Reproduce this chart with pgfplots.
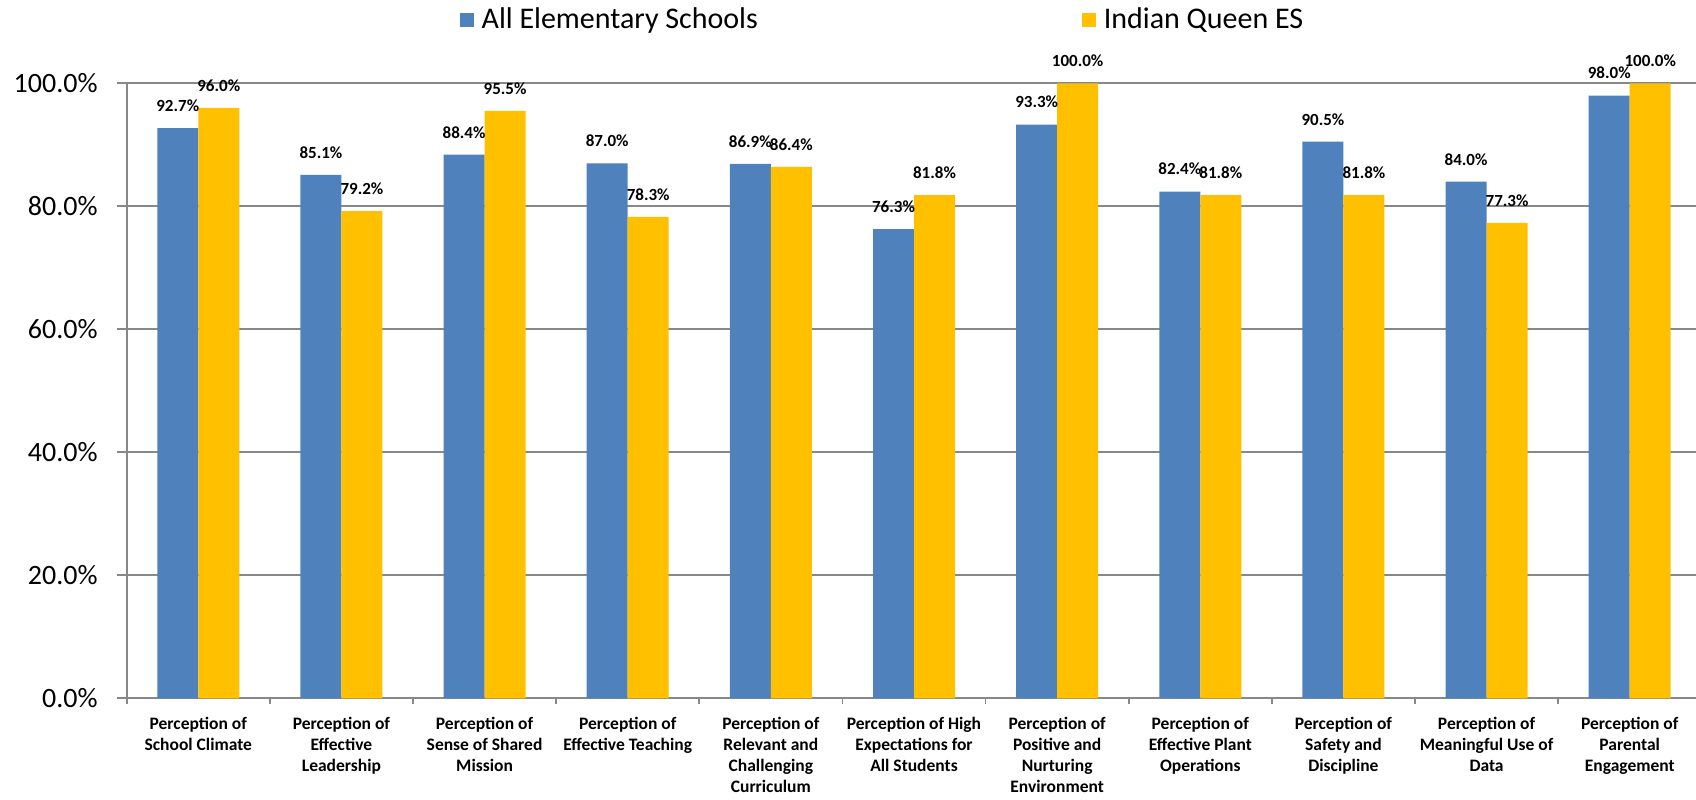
\documentclass[border=0pt]{standalone}
\usepackage{pgfplots}
\pgfplotsset{compat=1.18}
\usepackage{fontspec}
\setmainfont{Carlito}
\definecolor{cblue}{HTML}{4F81BD}
\definecolor{cyellow}{HTML}{FFC000}
\definecolor{cgrid}{HTML}{888888}
\begin{document}
\begin{tikzpicture}
\useasboundingbox (-63.35pt,-50.35pt) rectangle (784.65pt,349.15pt);
\begin{axis}[
  at={(0pt,0pt)}, anchor=south west,
  scale only axis, width=787.3pt, height=307.5pt,
  ybar=0pt, bar width=20.5pt,
  xmin=-0.5, xmax=10.5, ymin=0, ymax=100,
  clip=false,
  axis x line*=bottom, axis y line*=left,
  axis line style={-, cgrid, line width=0.9pt},
  ymajorgrids, grid style={cgrid, line width=0.9pt},
  ytick={0,20,...,100},
  /pgf/number format/assume math mode=true,
  yticklabel={\pgfmathprintnumber[fixed,fixed zerofill,precision=1]{\tick}\%},
  yticklabel style={font=\fontsize{14}{16}\selectfont, inner sep=0pt, xshift=-9.35pt},
  xtick={0,...,10},
  xticklabels={
    {Perception of\\School Climate},
    {Perception of\\Effective\\Leadership},
    {Perception of\\Sense of Shared\\Mission},
    {Perception of\\Effective Teaching},
    {Perception of\\Relevant and\\Challenging\\Curriculum},
    {Perception of High\\Expectations for\\All Students},
    {Perception of\\Positive and\\Nurturing\\Environment},
    {Perception of\\Effective Plant\\Operations},
    {Perception of\\Safety and\\Discipline},
    {Perception of\\Meaningful Use of\\Data},
    {Perception of\\Parental\\Engagement}},
  xticklabel style={font=\bfseries\fontsize{8.75}{10.5}\selectfont, align=center, anchor=north, inner sep=0pt, yshift=-4pt},
  major x tick style={draw=none},
  minor xtick={-0.5,0.5,...,10.5},
  minor tick length=3pt,
  tick align=outside, major tick length=5pt,
  tick style={cgrid, line width=0.9pt},
  nodes near coords={\pgfmathprintnumber[fixed,fixed zerofill,precision=1]{\pgfplotspointmeta}\%},
  nodes near coords style={font=\bfseries\fontsize{8.5}{10}\selectfont, anchor=base, inner sep=0pt, yshift=8.3pt, text=black},
  legend image code/.code={\fill[#1] (0pt,-3.5pt) rectangle (7pt,3.5pt); \path (9pt,0pt);},
  legend columns=2,
  legend style={at={(axis description cs:0.2112,1.103)}, anchor=west, draw=none, fill=none, inner sep=0pt,
    font=\fontsize{15}{17}\selectfont,
    /tikz/every even column/.append style={column sep=160pt}},
]
\addplot[fill=cblue, draw=none] coordinates {
  (0,92.7) (1,85.1) (2,88.4) (3,87.0) (4,86.9) (5,76.3)
  (6,93.3) (7,82.4) (8,90.5) (9,84.0) (10,98.0)};
\addplot[fill=cyellow, draw=none] coordinates {
  (0,96.0) (1,79.2) (2,95.5) (3,78.3) (4,86.4) (5,81.8)
  (6,100.0) (7,81.8) (8,81.8) (9,77.3) (10,100.0)};
\legend{All Elementary Schools, Indian Queen ES}
\end{axis}
\end{tikzpicture}
\end{document}
